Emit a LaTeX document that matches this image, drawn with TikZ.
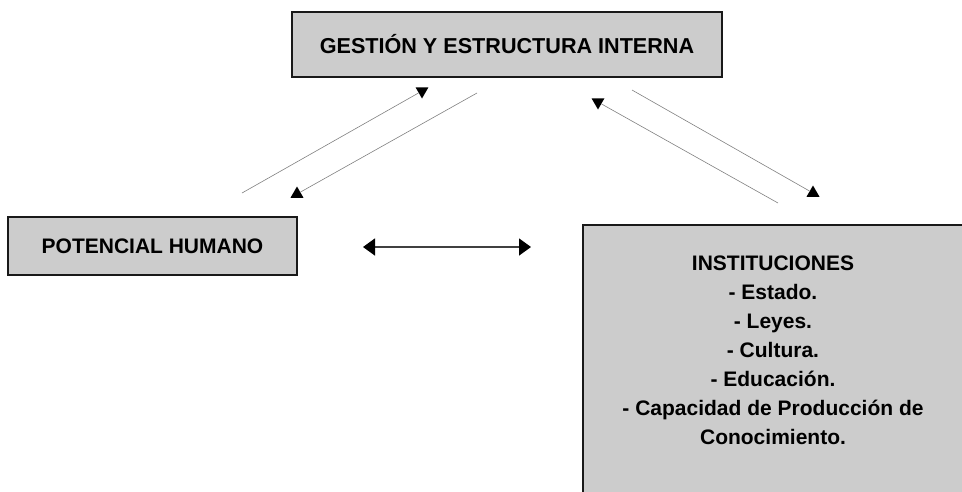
\documentclass[tikz,border=0pt]{standalone}
\usepackage{fontspec}
\setmainfont{Liberation Sans}
\usetikzlibrary{arrows.meta,shapes.geometric}
\definecolor{boxgray}{HTML}{CCCCCC}
\tikzset{
  box/.style={draw=black!90, line width=1.4pt, fill=boxgray},
  boxtext/.style={font=\bfseries\fontsize{21}{29}\selectfont, align=center},
  thinline/.style={draw=black!50, line width=0.6pt},
  tipup/.style={regular polygon, regular polygon sides=3, fill=black, inner sep=0pt, minimum size=15pt},
  tipdown/.style={tipup, shape border rotate=180}
}

\begin{document}
\begin{tikzpicture}[x=1pt,y=-1pt]
		%%%%% START %%%%%
		\useasboundingbox (0,0) rectangle (962,491);
		\clip (0,0) rectangle (962,491);
		
		\node[box, boxtext, font=\bfseries\fontsize{21.6}{29}\selectfont, minimum width=430pt, minimum height=65pt] (gestion) at (507,44.5) {GESTIÓN Y ESTRUCTURA INTERNA};
		\node[box, boxtext, minimum width=289pt, minimum height=58pt] (potencial) at (152.5,246) {POTENCIAL HUMANO};
		
		\draw[box] (583,225) rectangle (975,510);
		\node[boxtext] (instituciones) at (773,350) {INSTITUCIONES\\- Estado.\\- Leyes.\\- Cultura.\\- Educación.\\- Capacidad de Producción de\\Conocimiento.};
		
		% left pair
		\coordinate (a1) at (242,193);
		\coordinate (b1) at (477,93);
		\node[tipdown] (ta) at (422,91) {};
		\node[tipup] (tb) at (297,194) {};
		\draw[thinline] (a1) -- (ta);
		\draw[thinline] (b1) -- (tb);
		
		% right pair
		\coordinate (c1) at (778,203);
		\coordinate (d1) at (632,90);
		\node[tipdown] (tc) at (598,102) {};
		\node[tipup] (td) at (813,193) {};
		\draw[thinline] (c1) -- (tc);
		\draw[thinline] (d1) -- (td);
		
		% double arrow
		\coordinate (h1) at (363,247);
		\coordinate (h2) at (531,247);
		\draw[line width=1.5pt, color=black!75, {Triangle[length=12pt,width=17pt,color=black]}-{Triangle[length=12pt,width=17pt,color=black]}] (h1) -- (h2);
		%%%%% END %%%%%
	\end{tikzpicture}
\end{document}
